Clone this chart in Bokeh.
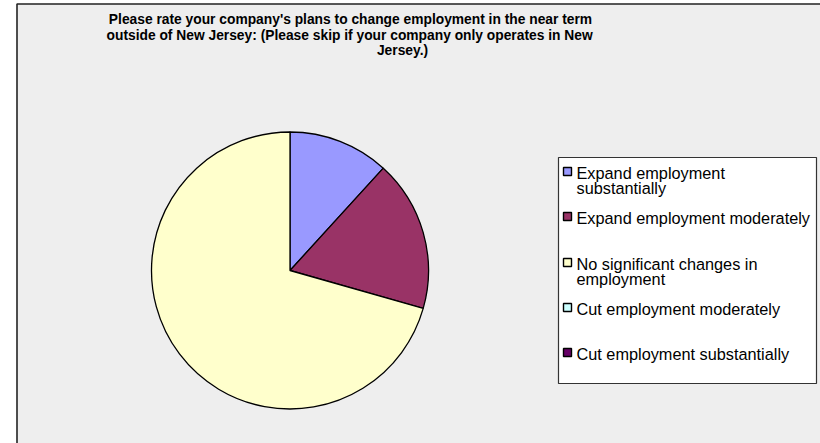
import numpy as np
from bokeh.plotting import figure
from bokeh.models import Range1d
from bokeh.core.properties import value
from bokeh.embed import file_html
from bokeh.resources import INLINE

# ---- data ----
title_lines = [
    "Please rate your company's plans to change employment in the near term",
    "outside of New Jersey:  (Please skip if your company only operates in New",
    "Jersey.)",
]
categories = [
    "Expand employment\nsubstantially",
    "Expand employment moderately",
    "No significant changes in\nemployment",
    "Cut employment moderately",
    "Cut employment substantially",
]
counts = [2, 3, 12, 0, 0]
colors = ["#9999FF", "#993366", "#FFFFCC", "#CCFFFF", "#660066"]

# ---- layout (page pixel positions) ----
W, H = 820, 443
LEFT, TOP = 0, 0
def X(px):
    return px - LEFT
def Y(py):
    return H - (py - TOP)

FONT = value("Liberation Sans")

p = figure(width=W, height=H, x_range=Range1d(0, W), y_range=Range1d(0, H),
           output_backend="svg", toolbar_location=None, min_border=0)
p.axis.visible = False
p.grid.visible = False
p.outline_line_color = None
p.background_fill_color = "white"
p.border_fill_color = "white"

# chart area
p.quad(left=[X(16.5)], right=[X(900)], top=[Y(3.5)], bottom=[-50],
       fill_color="#EEEEEE", line_color="#222222", line_width=1.6)

# title
title_x = [350, 351, 402]
title_base = [19, 34.5, 50]
p.text(x=[X(v) for v in title_x], y=[Y(b) for b in title_base], text=title_lines,
       text_font=FONT, text_font_style="bold", text_font_size="13.8px",
       text_align="center", text_baseline="alphabetic", text_color="black")

# pie
cx, cy, r = X(289.5), Y(270), 138.5
vals = np.array(counts, dtype=float)
frac = vals / vals.sum()
cum_end = np.cumsum(frac)
cum_start = cum_end - frac
start = np.pi / 2 - 2 * np.pi * cum_end
end = np.pi / 2 - 2 * np.pi * cum_start
mask = vals > 0
p.wedge(x=cx, y=cy, radius=r, start_angle=start[mask], end_angle=end[mask],
        direction="anticlock", fill_color=[c for c, m in zip(colors, mask) if m],
        line_color="black", line_width=1.3)

# legend box
p.quad(left=[X(558)], right=[X(816)], top=[Y(157)], bottom=[Y(383)],
       fill_color="white", line_color="#333333", line_width=1.2)
item_cy = [171, 216, 262, 307, 352]
p.rect(x=[X(567)] * len(categories), y=[Y(c) for c in item_cy], width=8, height=8,
       fill_color=colors, line_color="black", line_width=1.4)
lx, ly, lt = [], [], []
for lab, c in zip(categories, item_cy):
    for i, line in enumerate(lab.split("\n")):
        lx.append(X(576))
        ly.append(Y(c + 1 + 15 * i))
        lt.append(line)
p.text(x=lx, y=ly, text=lt, text_font=FONT, text_font_size="16.3px",
       text_align="left", text_baseline="alphabetic", text_color="black")

open("out.html", "w").write(file_html(p, INLINE))
